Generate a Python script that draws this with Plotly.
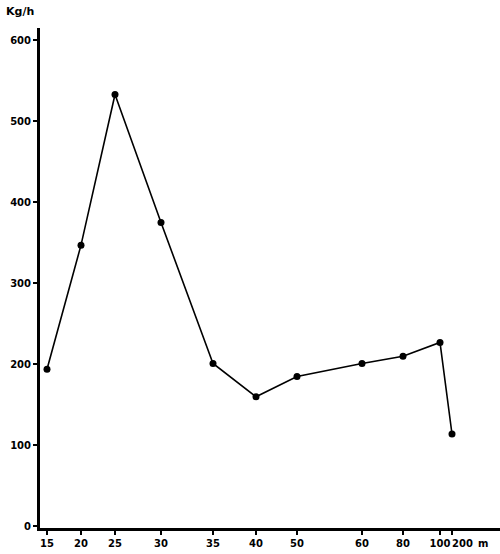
import plotly.graph_objects as go

# Depth categories (m) and catch rate (Kg/h)
depth_labels = ["15", "20", "25", "30", "35", "40", "50", "60", "80", "100", "200"]
# Irregular positions of the depth ticks along the horizontal axis (axis units)
depth_pos = [7, 41, 75, 121, 173, 216, 257, 322, 363, 400, 412]
catch_kgh = [194, 347, 533, 375, 201, 160, 185, 201, 210, 227, 114]

y_ticks = [0, 100, 200, 300, 400, 500, 600]

font_main = dict(family="DejaVu Sans", size=10, color="black", weight="bold")

# last label (200) is drawn as an annotation slightly to the right of its tick,
# as in the original, so that it does not collide with "100"
tick_text = depth_labels[:-1] + [""]

fig = go.Figure()
fig.add_trace(go.Scatter(
    x=depth_pos, y=catch_kgh,
    mode="lines+markers",
    line=dict(color="black", width=1.6),
    marker=dict(color="black", size=7),
    showlegend=False,
    hoverinfo="skip",
))

fig.update_layout(
    width=500, height=554,
    margin=dict(l=40, r=0, t=28, b=26),
    paper_bgcolor="white", plot_bgcolor="white",
    font=font_main,
    xaxis=dict(
        range=[0, 460], automargin=False,
        tickmode="array", tickvals=depth_pos, ticktext=tick_text,
        tickangle=0,
        showgrid=False, zeroline=False,
        showline=True, linecolor="black", linewidth=3,
        ticks="outside", ticklen=4, tickwidth=1.5, tickcolor="black",
        tickfont=font_main,
    ),
    yaxis=dict(
        range=[-2, 615], automargin=False,
        tickmode="array", tickvals=y_ticks,
        showgrid=False, zeroline=False,
        showline=True, linecolor="black", linewidth=3,
        ticks="outside", ticklen=4, tickwidth=1.5, tickcolor="black",
        tickfont=font_main,
    ),
    annotations=[
        dict(text="Kg/h", xref="paper", yref="paper", x=-0.078, y=1.032,
             xanchor="left", yanchor="middle", showarrow=False,
             font=dict(family="DejaVu Sans", size=11, color="black", weight="bold")),
        dict(text=depth_labels[-1], xref="x", yref="paper", x=depth_pos[-1], y=-0.03,
             xshift=10, xanchor="center", yanchor="middle", showarrow=False,
             font=font_main),
        dict(text="m", xref="paper", yref="paper", x=0.963, y=-0.03,
             xanchor="center", yanchor="middle", showarrow=False,
             font=font_main),
    ],
)

fig.write_html(
    "out.html",
    config={"displayModeBar": False},
    post_script="document.body.style.margin='0';document.body.style.overflow='hidden';",
)
